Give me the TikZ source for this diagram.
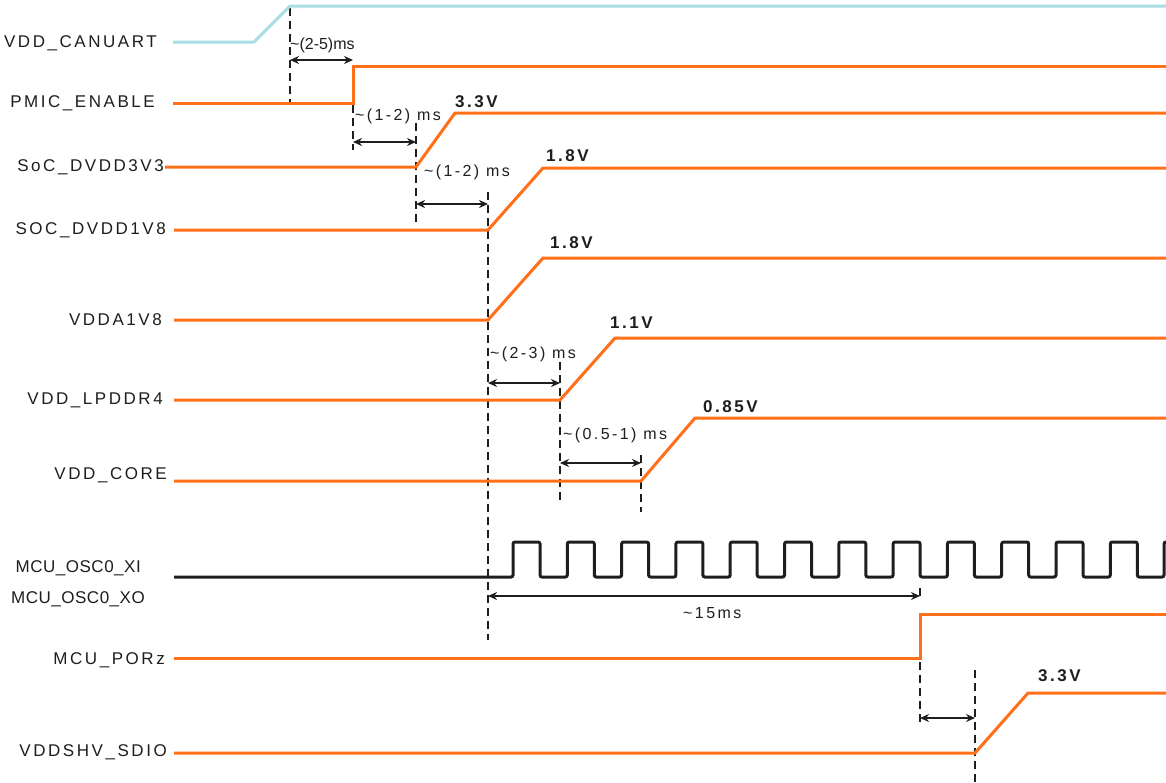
\documentclass[tikz,border=0pt]{standalone}
\usepackage{fontspec}
\setmainfont[LetterSpace=15]{Liberation Sans}
\usetikzlibrary{arrows.meta}
\definecolor{sig}{RGB}{255,112,24}
\definecolor{canc}{RGB}{170,221,227}
\definecolor{ink}{RGB}{30,30,30}
\begin{document}
\begin{tikzpicture}[x=1pt,y=-1pt,
  sigline/.style={draw=sig,line width=3pt},
  canline/.style={draw=canc,line width=3pt},
  clkline/.style={draw=ink,line width=3pt,rounded corners=2pt},
  lbl/.style={anchor=east,inner sep=0pt,text=ink,font=\fontsize{17}{19}\selectfont},
  osclbl/.style={lbl,font=\fontsize{17}{19}\selectfont\addfontfeature{LetterSpace=3}},
  vlt/.style={anchor=west,inner sep=0pt,text=ink,font=\fontsize{17}{19}\selectfont\bfseries},
  tm/.style={anchor=west,inner sep=0pt,text=ink,font=\fontsize{16}{18}\selectfont},
  guide/.style={draw=ink,line width=1.6pt,dash pattern=on 8pt off 5pt},
  span/.style={draw=ink,line width=1.5pt,{Stealth[length=9pt,width=8pt]}-{Stealth[length=9pt,width=8pt]}}
]
\useasboundingbox (0,0) rectangle (1166,782);
\fill[white] (0,0) rectangle (1166,782);

% signal labels
\node[lbl] (l1) at (157,43) {VDD\_CANUART};
\node[lbl] (l2) at (155,103) {PMIC\_ENABLE};
\node[lbl] (l3) at (164,167) {SoC\_DVDD3V3};
\node[lbl] (l4) at (166,230) {SOC\_DVDD1V8};
\node[lbl] (l5) at (162,320) {VDDA1V8};
\node[lbl] (l6) at (163,400) {VDD\_LPDDR4};
\node[lbl] (l7) at (167,475) {VDD\_CORE};
\node[osclbl] (l8) at (141,568) {MCU\_OSC0\_XI};
\node[osclbl] (l9) at (145,599) {MCU\_OSC0\_XO};
\node[lbl] (l10) at (165,660) {MCU\_PORz};
\node[lbl] (l11) at (167,752) {VDDSHV\_SDIO};

% dashed guides
\draw[guide] (290,8) -- (290,103);
\draw[guide] (353,66) -- (353,150);
\draw[guide] (416,123) -- (416,222);
\draw[guide] (488,192) -- (488,640);
\draw[guide] (560,362) -- (560,500);
\draw[guide] (641,455) -- (641,512);
\draw[guide] (920,588) -- (920,600);
\draw[guide] (920,662) -- (920,725);
\draw[guide] (975,670) -- (975,782);

% traces
\draw[canline] (173,42) -- (254,42) -- (290,6) -- (1166,6);
\draw[sigline] (173,103) -- (353,103) -- (353,66) -- (1166,66);
\draw[sigline] (165,167) -- (416,167) -- (455,113) -- (1166,113);
\draw[sigline] (174,230) -- (488,230) -- (543,168) -- (1166,168);
\draw[sigline] (174,320) -- (488,320) -- (543,258) -- (1166,258);
\draw[sigline] (174,400) -- (560,400) -- (615,338) -- (1166,338);
\draw[sigline] (174,481) -- (641,481) -- (695,418) -- (1166,418);
\draw[clkline] (174,577) foreach \i in {0,...,11} {
   -- ({513+54.3*\i},577) -- ({513+54.3*\i},542) -- ({540+54.3*\i},542) -- ({540+54.3*\i},577) }
   -- (1164,577) -- (1164,542) -- (1175,542);
\draw[sigline] (174,658) -- (920,658) -- (920,614) -- (1166,614);
\draw[sigline] (174,753) -- (975,753) -- (1028,693) -- (1166,693);

% voltage labels
\node[vlt] (v1) at (455,102) {3.3V};
\node[vlt] (v2) at (546,156) {1.8V};
\node[vlt] (v3) at (550,243) {1.8V};
\node[vlt] (v4) at (610,323) {1.1V};
\node[vlt] (v5) at (703,407) {0.85V};
\node[vlt] (v6) at (1038,676) {3.3V};

% span arrows
\coordinate (a1) at (290,60);  \coordinate (b1) at (353,60);
\coordinate (a2) at (353,142); \coordinate (b2) at (416,142);
\coordinate (a3) at (416,204); \coordinate (b3) at (488,204);
\coordinate (a4) at (488,383); \coordinate (b4) at (560,383);
\coordinate (a5) at (560,463); \coordinate (b5) at (641,463);
\coordinate (a6) at (488,596); \coordinate (b6) at (920,596);
\coordinate (a7) at (920,718); \coordinate (b7) at (975,718);
\draw[span] (a1) -- (b1);
\draw[span] (a2) -- (b2);
\draw[span] (a3) -- (b3);
\draw[span] (a4) -- (b4);
\draw[span] (a5) -- (b5);
\draw[span] (a6) -- (b6);
\draw[span] (a7) -- (b7);

% timing labels
\node[tm,font=\fontsize{16}{18}\selectfont\addfontfeature{LetterSpace=0}] (t1) at (290,45) {\textasciitilde(2-5)ms};
\node[tm] (t2) at (355,116) {\textasciitilde(1-2) ms};
\node[tm] (t3) at (424,172) {\textasciitilde(1-2) ms};
\node[tm] (t4) at (490,354) {\textasciitilde(2-3) ms};
\node[tm] (t5) at (563,435) {\textasciitilde(0.5-1) ms};
\node[tm] (t6) at (683,613) {\textasciitilde15ms};
\end{tikzpicture}
\end{document}
